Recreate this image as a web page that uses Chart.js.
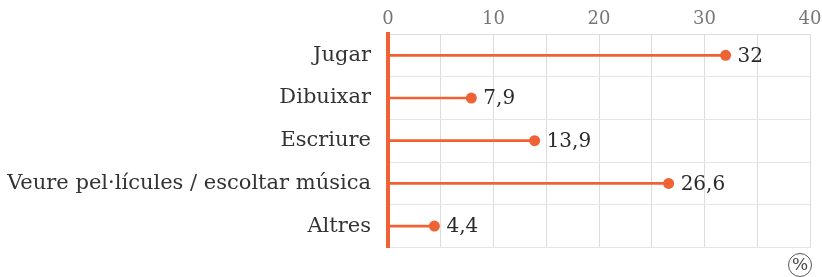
<!DOCTYPE html>
<html>
<head>
<meta charset="utf-8">
<script src="https://cdn.jsdelivr.net/npm/chart.js@4"></script>
<style>
  html, body { margin: 0; padding: 0; background: #fff; }
  #wrap { width: 822px; height: 277px; }
</style>
</head>
<body>
<div id="wrap"><canvas id="myChart" width="822" height="277"></canvas></div>
<script>
  const labels = [
    'Jugar',
    'Dibuixar',
    'Escriure',
    'Veure pel·lícules / escoltar música',
    'Altres',
  ];
  const values = [32, 7.9, 13.9, 26.6, 4.4];
  const xTicks = [0, 10, 20, 30, 40];

  const orange = 'rgb(239, 98, 52)';
  const fontFamily = '"DejaVu Serif", "Liberation Serif", serif';

  // number labels next to the dots, Catalan decimal comma
  const valueLabels = {
    id: 'valueLabels',
    afterDatasetsDraw(chart) {
      const ctx = chart.ctx;
      const meta = chart.getDatasetMeta(1);
      ctx.save();
      ctx.font = '20px ' + fontFamily;
      ctx.fillStyle = '#2a2a2a';
      ctx.textBaseline = 'middle';
      meta.data.forEach((pt, i) => {
        const txt = String(values[i]).replace('.', ',');
        ctx.fillText(txt, pt.x + 12, pt.y + 1);
      });
      ctx.restore();
    }
  };

  // "%" unit badge in the bottom right
  const unitBadge = {
    id: 'unitBadge',
    afterDraw(chart) {
      const ctx = chart.ctx;
      const cx = chart.chartArea.right - 10, cy = 265;
      ctx.save();
      ctx.beginPath();
      ctx.ellipse(cx, cy, 11.5, 11.5, 0, 0, Math.PI * 2);
      ctx.strokeStyle = '#555';
      ctx.lineWidth = 1;
      ctx.stroke();
      ctx.font = '17px ' + fontFamily;
      ctx.fillStyle = '#444';
      ctx.textAlign = 'center';
      ctx.textBaseline = 'middle';
      ctx.fillText('%', cx, cy + 1);
      ctx.restore();
    }
  };

  const data = {
    labels: labels,
    datasets: [{
      type: 'bar',
      data: values,
      backgroundColor: orange,
      barThickness: 2,
      borderWidth: 0,
    }, {
      type: 'line',
      data: values,
      showLine: false,
      pointRadius: 5.5,
      pointHoverRadius: 5.5,
      pointBackgroundColor: orange,
      pointBorderWidth: 0,
    }]
  };

  const config = {
    type: 'bar',
    data: data,
    options: {
      indexAxis: 'y',
      responsive: false,
      animation: false,
      layout: { padding: { left: 0, right: 0, top: 0, bottom: 27 } },
      plugins: {
        legend: { display: false },
        tooltip: { enabled: false },
      },
      scales: {
        x: {
          position: 'top',
          min: 0,
          max: 40,
          afterBuildTicks(scale) {
            scale.ticks = [];
            for (let v = 0; v <= 40; v += 5) scale.ticks.push({ value: v });
          },
          afterFit(scale) {
            scale.height = 34;
            scale.paddingRight = 12;
          },
          grid: { color: '#dcdcdc', lineWidth: 1, drawTicks: false },
          border: { color: '#dcdcdc', width: 1 },
          ticks: {
            padding: 4,
            color: '#777',
            font: { family: fontFamily, size: 18 },
            callback: (v) => xTicks.includes(v) ? String(v) : '',
          }
        },
        y: {
          afterFit(scale) { scale.width = 388; },
          grid: { color: '#e6e6e6', lineWidth: 1, drawTicks: false, offset: true },
          border: { color: orange, width: 4 },
          ticks: {
            padding: 17,
            color: '#333',
            font: { family: fontFamily, size: 21 },
          }
        }
      }
    },
    plugins: [valueLabels, unitBadge]
  };

  const myChart = new Chart(
    document.getElementById('myChart'),
    config
  );
</script>
</body>
</html>
